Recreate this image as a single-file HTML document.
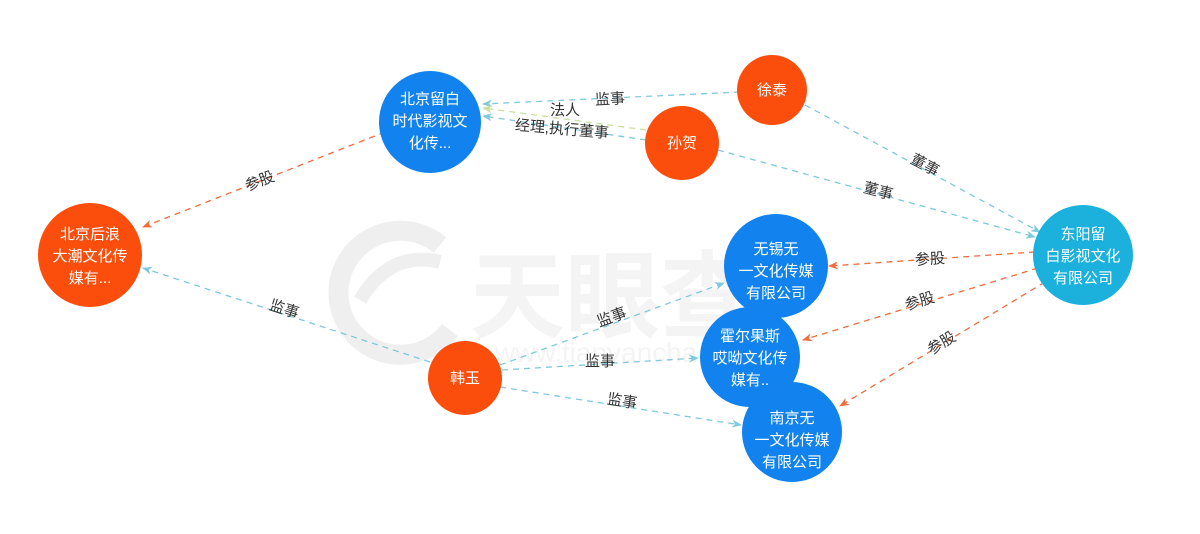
<!DOCTYPE html>
<html><head><meta charset="utf-8"><style>
body{margin:0;background:#fff;}
svg{display:block;font-family:"Liberation Sans","Noto Sans CJK SC",sans-serif;}
</style></head><body>
<svg width="1200" height="534" viewBox="0 0 1200 534">
<defs>
<marker id="ab" markerWidth="10" markerHeight="10" refX="9" refY="5" orient="auto" markerUnits="userSpaceOnUse"><path d="M0,1 L10,5 L0,9 L3,5z" fill="#7fc9dc"/></marker>
<marker id="ao" markerWidth="10" markerHeight="10" refX="9" refY="5" orient="auto" markerUnits="userSpaceOnUse"><path d="M0,1 L10,5 L0,9 L3,5z" fill="#f26b3a"/></marker>
<marker id="ag" markerWidth="10" markerHeight="10" refX="9" refY="5" orient="auto" markerUnits="userSpaceOnUse"><path d="M0,1 L10,5 L0,9 L3,5z" fill="#c8e0a0"/></marker>
</defs>
<!-- watermark -->
<g opacity="0.55">
<path d="M440,245 A62,62 0 1 0 450,330" fill="none" stroke="#e2e2e2" stroke-width="20"/>
<path d="M360,300 Q390,250 440,262" fill="none" stroke="#e2e2e2" stroke-width="14"/>
<text x="470" y="330" font-size="95" font-weight="bold" fill="#ececec">天眼查</text>
<text x="495" y="362" font-size="28" fill="#ececec">www.tianyancha.com</text>
</g>
<g fill="none" stroke-width="1.3" stroke-dasharray="6,5">
<path d="M740,92 L483,104" stroke="#7fc9dc" marker-end="url(#ab)"/>
<path d="M646,130 L483,108" stroke="#c8e0a0" marker-end="url(#ag)"/>
<path d="M646,140 L483,116" stroke="#7fc9dc" marker-end="url(#ab)"/>
<path d="M805,105 L1040,232" stroke="#7fc9dc" marker-end="url(#ab)"/>
<path d="M718,150 L1035,237" stroke="#7fc9dc" marker-end="url(#ab)"/>
<path d="M385,132 L143,227" stroke="#f26b3a" marker-end="url(#ao)"/>
<path d="M1035,252 L829,266" stroke="#f26b3a" marker-end="url(#ao)"/>
<path d="M1038,268 L803,340" stroke="#f26b3a" marker-end="url(#ao)"/>
<path d="M1045,282 L840,406" stroke="#f26b3a" marker-end="url(#ao)"/>
<path d="M430,362 L143,268" stroke="#7fc9dc" marker-end="url(#ab)"/>
<path d="M500,365 L724,283" stroke="#7fc9dc" marker-end="url(#ab)"/>
<path d="M502,370 L698,358" stroke="#7fc9dc" marker-end="url(#ab)"/>
<path d="M500,387 L741,425" stroke="#7fc9dc" marker-end="url(#ab)"/>
</g>
<g font-size="15" fill="#333" text-anchor="middle">
<text x="610" y="104" transform="rotate(-3 610 100)">监事</text>
<text x="565" y="115">法人</text>
<text x="562" y="134" transform="rotate(5 562 129)">经理,执行董事</text>
<text x="925" y="170" transform="rotate(28 925 165)">董事</text>
<text x="878" y="196" transform="rotate(15 878 192)">董事</text>
<text x="260" y="186" transform="rotate(-21 260 182)">参股</text>
<text x="930" y="264" transform="rotate(-4 930 260)">参股</text>
<text x="920" y="306" transform="rotate(-17 920 302)">参股</text>
<text x="942" y="348" transform="rotate(-31 942 344)">参股</text>
<text x="284" y="314" transform="rotate(18 284 310)">监事</text>
<text x="612" y="322" transform="rotate(-20 612 318)">监事</text>
<text x="600" y="366">监事</text>
<text x="622" y="406" transform="rotate(9 622 402)">监事</text>
</g>
<g>
<circle cx="430" cy="122" r="51" fill="#1283ee"/>
<circle cx="772" cy="90" r="35" fill="#fb4e0c"/>
<circle cx="682" cy="143" r="37" fill="#fb4e0c"/>
<circle cx="90" cy="255" r="52" fill="#fb4e0c"/>
<circle cx="1083" cy="255" r="50" fill="#1bb1dc"/>
<circle cx="465" cy="378" r="37" fill="#fb4e0c"/>
<circle cx="776" cy="266" r="52" fill="#1283ee"/>
<circle cx="750" cy="357" r="50" fill="#1283ee"/>
<circle cx="792" cy="432" r="50" fill="#1283ee"/>
</g>
<g font-size="15" fill="#fff" text-anchor="middle">
<text x="430" y="104">北京留白</text><text x="430" y="126">时代影视文</text><text x="430" y="148">化传...</text>
<text x="772" y="95">徐泰</text>
<text x="682" y="148">孙贺</text>
<text x="90" y="239">北京后浪</text><text x="90" y="261">大潮文化传</text><text x="90" y="283">媒有...</text>
<text x="1083" y="239">东阳留</text><text x="1083" y="261">白影视文化</text><text x="1083" y="283">有限公司</text>
<text x="465" y="383">韩玉</text>
<text x="776" y="254">无锡无</text><text x="776" y="276">一文化传媒</text><text x="776" y="298">有限公司</text>
<text x="750" y="341">霍尔果斯</text><text x="750" y="363">哎呦文化传</text><text x="750" y="385">媒有..</text>
<text x="792" y="423">南京无</text><text x="792" y="445">一文化传媒</text><text x="792" y="467">有限公司</text>
</g>
</svg>
</body></html>
